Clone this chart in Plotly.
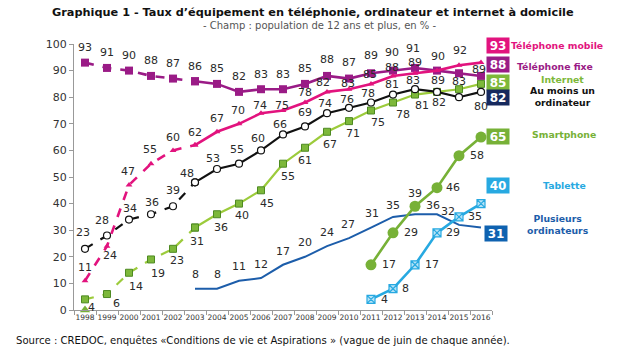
import plotly.graph_objects as go

years = [str(y) for y in range(1998, 2017)]
years_2003 = [str(y) for y in range(2003, 2017)]
years_2011 = [str(y) for y in range(2011, 2017)]

mobile = [11, 24, 47, 55, 60, 62, 67, 70, 74, 75, 78, 82, 83, 85, 88, 89, 90, 92, 93]
fixe = [93, 91, 90, 88, 87, 86, 85, 82, 83, 83, 85, 88, 87, 89, 90, 91, 90, 89, 88]
ordinateur = [23, 28, 34, 36, 39, 48, 53, 55, 60, 66, 69, 74, 76, 78, 81, 83, 82, 80, 82]
internet = [4, 6, 14, 19, 23, 31, 36, 40, 45, 55, 61, 67, 71, 75, 78, 81, 82, 83, 85]
smartphone = [17, 29, 39, 46, 58, 65]
tablette = [4, 8, 17, 29, 35, 40]
plusieurs = [8, 8, 11, 12, 17, 20, 24, 27, 31, 35, 36, 36, 32, 31]
marker_1998 = [0]

# label texts shown next to points (None = no label)
mobile_lbl = [str(v) for v in mobile[:14]] + ["88", "89", None, "92", None]
fixe_lbl = [str(v) for v in fixe[:15]] + ["91", "90", "89", None]
ordi_lbl = [str(v) for v in ordinateur[:14]] + ["81", "83", "89", None, "80"]
internet_lbl = [str(v) for v in internet[:18]] + [None]
smart_lbl = [str(v) for v in smartphone[:5]] + [None]
tab_lbl = [str(v) for v in tablette[:5]] + [None]
plus_lbl = [str(v) for v in plusieurs[:10]] + [None, "36", "32", None]

# label offsets in screen pixels (dx right, dy down)
mobile_off = [(0, -13), (3, 9), (-1, -13), (-1, -14), (0, -13), (0, -13), (0, -13), (-1, -13),
              (-1, -8), (-1, -5), (0, -10), (-4, -9), (-1, -6), (-1, -9), (-1, -8), (0, -11),
              (0, 0), (1, -15), (0, 0)]
fixe_off = [(0, -15)] * 11 + [(0, -16), (0, -16), (0, -18), (-1, -18), (-2, -19), (1, -14), (20, -4), (0, 0)]
ordi_off = [(-2, -16), (-5, -15), (1, -11), (1, -12), (0, -16), (-8, -9), (-4, -11), (-2, -14),
            (-3, -12), (-3, -10), (0, -14), (-2, -10), (-2, -8), (-3, -9), (-1, -10), (-2, -9),
            (1, -11), (0, 0), (0, 15)]
internet_off = [(6, 8), (9, 9), (7, 14), (7, 14), (4, 12), (2, 14), (4, 13), (3, 12), (6, 13),
                (5, 13), (0, 13), (3, 13), (4, 12), (7, 12), (10, 12), (7, 11), (2, 11), (0, -8), (0, 0)]
smart_off = [(18, 0), (18, 0), (0, -13), (16, 0), (18, 0), (0, 0)]
tab_off = [(13, 0), (12, 0), (17, 0), (16, 0), (16, 0), (0, 0)]
plus_off = [(0, -14), (0, -14), (0, -14), (0, -14), (0, -13), (0, -14), (0, -14), (-1, -14),
            (1, -14), (0, -11), (0, 0), (-4, -9), (-11, -13), (0, 0)]

C_MOB = "#E2137E"
C_FIX = "#9A1B86"
C_INT = "#9CCB3B"
C_INT_M = "#7DB83A"
C_ORD = "#111111"
C_SMA = "#77B137"
C_TAB = "#27A9E1"
C_PLU = "#1C5DAA"
C_NAVY = "#16295E"

fig = go.Figure()

def two_part(x, y, color, width, marker, dash_end=6):
    fig.add_trace(go.Scatter(x=x[:dash_end], y=y[:dash_end], mode="lines+markers",
                             line=dict(color=color, width=width, dash="dash"), marker=marker,
                             showlegend=False, cliponaxis=False))
    fig.add_trace(go.Scatter(x=x[dash_end - 1:], y=y[dash_end - 1:], mode="lines+markers",
                             line=dict(color=color, width=width), marker=marker,
                             showlegend=False, cliponaxis=False))

two_part(years, fixe, C_FIX, 2.6, dict(symbol="square", size=8, color=C_FIX))
two_part(years, mobile, C_MOB, 2.6, dict(symbol="triangle-up", size=6, color=C_MOB))
two_part(years, internet, C_INT, 2.2,
         dict(symbol="square", size=7, color=C_INT_M, line=dict(color="#4E8A22", width=1)))
two_part(years, ordinateur, C_ORD, 2.2,
         dict(symbol="circle", size=7, color="white", line=dict(color=C_ORD, width=1.2)))

fig.add_trace(go.Scatter(x=years_2003, y=plusieurs, mode="lines",
                         line=dict(color=C_PLU, width=2), showlegend=False))
fig.add_trace(go.Scatter(x=years_2011, y=smartphone, mode="lines+markers",
                         line=dict(color=C_SMA, width=2.6),
                         marker=dict(symbol="circle", size=11, color=C_SMA), showlegend=False))
fig.add_trace(go.Scatter(x=years_2011, y=tablette, mode="lines+markers",
                         line=dict(color=C_TAB, width=2.6),
                         marker=dict(symbol="square-x", size=8, color="#B5E3F7",
                                     line=dict(color=C_TAB, width=1.2)), showlegend=False))
fig.add_trace(go.Scatter(x=years[:1], y=marker_1998, mode="markers",
                         marker=dict(symbol="triangle-up", size=9, color=C_SMA),
                         showlegend=False, cliponaxis=False))

anns = []
def add_labels(x, texts, offs, vals):
    for xi, t, (dx, dy), v in zip(x, texts, offs, vals):
        if t is None:
            continue
        anns.append(dict(x=years.index(xi), y=v, xref="x", yref="y", text=t, showarrow=False,
                         xshift=dx, yshift=-dy, xanchor="center", yanchor="middle",
                         font=dict(family="DejaVu Sans", size=11, color="#2a2a2a")))

add_labels(years, fixe_lbl, fixe_off, fixe)
add_labels(years, mobile_lbl, mobile_off, mobile)
add_labels(years, ordi_lbl, ordi_off, ordinateur)
add_labels(years, internet_lbl, internet_off, internet)
add_labels(years_2011, smart_lbl, smart_off, smartphone)
add_labels(years_2011, tab_lbl, tab_off, tablette)
add_labels(years_2003, plus_lbl, plus_off, plusieurs)

L, R, T, B = 74, 492, 44, 310
def px(x):
    return (x - L) / (R - L)
def py(y):
    return (B - y) / (B - T)

boxes = [("93", C_MOB, 498, 45.5), ("88", C_FIX, 498, 64), ("85", C_INT_M, 498, 82.5),
         ("82", C_NAVY, 498, 97.5), ("65", C_SMA, 498, 136.5), ("40", C_TAB, 498, 185.5),
         ("31", "#0F62B0", 495.5, 233)]
for t, c, x, y in boxes:
    anns.append(dict(x=px(x), y=py(y), xref="paper", yref="paper", text="<b>" + t + "</b>",
                     showarrow=False, bgcolor=c, width=20, height=13, borderpad=1,
                     xanchor="center", yanchor="middle",
                     font=dict(family="DejaVu Sans", size=12, color="white")))

legend_txt = [("Téléphone mobile", C_MOB, 557, 45), ("Téléphone fixe", C_FIX, 555, 66),
              ("Internet", C_INT_M, 562, 79), ("Au moins un<br>ordinateur", "#111111", 562, 96),
              ("Smartphone", C_SMA, 564, 134), ("Tablette", C_TAB, 564, 185),
              ("Plusieurs<br>ordinateurs", C_PLU, 558, 224)]
for t, c, x, y in legend_txt:
    anns.append(dict(x=px(x), y=py(y), xref="paper", yref="paper", text="<b>" + t + "</b>",
                     showarrow=False, align="center", xanchor="center", yanchor="middle",
                     font=dict(family="DejaVu Sans", size=9.3, color=c)))

anns.append(dict(x=px(313), y=py(12), xref="paper", yref="paper",
                 xanchor="center", yanchor="middle",
                 text="<b>Graphique 1 - Taux d’équipement en téléphonie, ordinateur et internet à domicile</b>",
                 showarrow=False, font=dict(family="DejaVu Sans", size=11.3, color="#111111")))
anns.append(dict(x=px(320), y=py(26), xref="paper", yref="paper",
                 xanchor="center", yanchor="middle",
                 text="- Champ : population de 12 ans et plus, en % -",
                 showarrow=False, font=dict(family="DejaVu Sans", size=10, color="#555555")))
anns.append(dict(x=px(14), y=py(340), xref="paper", yref="paper", xanchor="left", yanchor="middle",
                 text="Source : CREDOC, enquêtes «Conditions de vie et Aspirations » (vague de juin de chaque année).",
                 showarrow=False, font=dict(family="DejaVu Sans", size=10.1, color="#111111")))

fig.update_layout(
    width=620, height=350, margin=dict(l=L, r=620 - R, t=T, b=350 - B),
    paper_bgcolor="white", plot_bgcolor="white", showlegend=False, annotations=anns,
    xaxis=dict(type="category", categoryorder="array", categoryarray=years,
               tickson="boundaries", ticks="outside", ticklen=4, tickcolor="#999999",
               showline=True, linecolor="#999999", linewidth=1, showgrid=False, tickangle=0,
               tickfont=dict(family="DejaVu Sans", size=7.5, color="#333333"), range=[-0.5, 18.5]),
    yaxis=dict(range=[0, 100], dtick=10, ticks="outside", ticklen=4, tickcolor="#999999",
               showline=True, linecolor="#999999", linewidth=1, showgrid=False, zeroline=False,
               tickfont=dict(family="DejaVu Sans", size=11, color="#333333")),
)

fig.write_html("out.html")
